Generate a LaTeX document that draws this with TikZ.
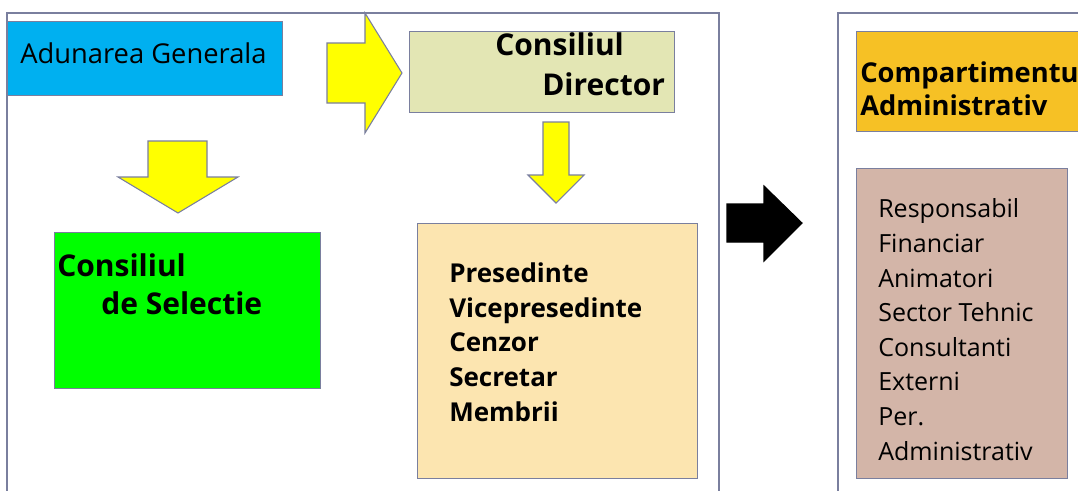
\documentclass[tikz,border=0pt]{standalone}
\usepackage{fontspec}
\setmainfont{Open Sans}
\definecolor{framegray}{RGB}{122,127,158}
\definecolor{adunareblue}{RGB}{0,176,240}
\definecolor{directorolive}{RGB}{227,230,180}
\definecolor{selectiegreen}{RGB}{0,255,0}
\definecolor{biroucream}{RGB}{252,229,176}
\definecolor{comparorange}{RGB}{246,193,37}
\definecolor{personalbrown}{RGB}{211,181,168}
\definecolor{arrowyellow}{RGB}{255,255,0}

\begin{document}
\begin{tikzpicture}[x=0.75pt, y=-0.75pt,
  frame/.style={draw=framegray, line width=1.1pt},
  box/.style={draw=framegray, line width=1.1pt, anchor=north west, inner sep=0pt},
  plain/.style={anchor=base west, align=left, inner sep=0pt},
  yellowarrow/.style={draw=framegray, fill=arrowyellow, line width=0.8pt, line join=miter},
  blackarrow/.style={draw=black, fill=black, line width=0.8pt}]
  \useasboundingbox (0,0) rectangle (1078,490);
  \clip (0,0) rectangle (1078,490);
  \fill[white] (0,0) rectangle (1078,490);

  % frames
  \draw[frame] (7,500) -- (7,13) -- (719,13) -- (719,500);
  \draw[frame] (838,500) -- (838,13) -- (1100,13);

  % boxes
  \node[box, fill=adunareblue, minimum width=206.25pt, minimum height=55.5pt]
    (adunare) at (7,21) {};
  \node[box, fill=directorolive, minimum width=198.75pt, minimum height=60.75pt]
    (director) at (409,31) {};
  \node[box, fill=selectiegreen, minimum width=199.5pt, minimum height=117pt]
    (selectie) at (54,232) {};
  \node[box, fill=biroucream, minimum width=210pt, minimum height=191.25pt]
    (birou) at (417,223) {};
  \node[box, fill=comparorange, minimum width=183pt, minimum height=75pt]
    (compartiment) at (856,31) {};
  \node[box, fill=personalbrown, minimum width=158.25pt, minimum height=232.5pt]
    (personal) at (856,168) {};

  % texts (anchored at the baseline of the last line)
  \node[plain, font=\fontsize{20.5}{26}\selectfont] (adunare text) at (20,63)
    {Adunarea Generala};
  \node[plain, font=\bfseries\fontsize{22.5}{30}\selectfont] (director text) at (495,95)
    {Consiliul\\\hspace*{35.25pt}Director};
  \node[plain, font=\bfseries\fontsize{22.5}{28.5}\selectfont] (selectie text) at (57,314)
    {Consiliul\\\hspace*{33pt}de Selectie};
  \node[plain, font=\bfseries\fontsize{19.5}{25.9}\selectfont] (birou text) at (449,421)
    {Presedinte\\Vicepresedinte\\Cenzor\\Secretar\\Membrii};
  \node[plain, font=\bfseries\fontsize{20.5}{24.75}\selectfont] (compartiment text) at (860,115)
    {Compartimentul\\Administrativ};
  \node[plain, font=\fontsize{18.75}{25.93}\selectfont] (personal text) at (878,460)
    {Responsabil\\Financiar\\Animatori\\Sector Tehnic\\Consultanti\\Externi\\Per.\\Administrativ};

  % block arrows
  \draw[yellowarrow] (327,43) -- (365,43) -- (365,13) -- (402,73) -- (365,133)
    -- (365,103) -- (327,103) -- cycle;
  \draw[yellowarrow] (148,141) -- (207,141) -- (207,177) -- (238,177) -- (178,213)
    -- (118,177) -- (148,177) -- cycle;
  \draw[yellowarrow] (543,122) -- (569,122) -- (569,175) -- (584,175) -- (556,203)
    -- (528,175) -- (543,175) -- cycle;
  \draw[blackarrow] (727,204) -- (764,204) -- (764,186) -- (802,223) -- (764,261)
    -- (764,242) -- (727,242) -- cycle;
\end{tikzpicture}
\end{document}
